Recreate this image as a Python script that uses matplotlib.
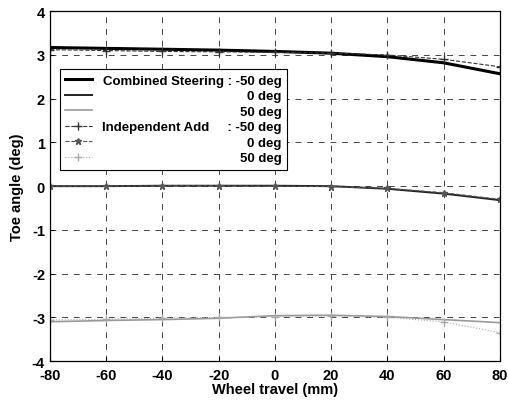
import matplotlib
matplotlib.use('Agg')
import matplotlib.pyplot as plt

plt.rcParams['font.family'] = ['Liberation Sans', 'DejaVu Sans']
plt.rcParams['font.weight'] = 'bold'
plt.rcParams['axes.unicode_minus'] = False

travel = [-80, -60, -40, -20, 0, 20, 40, 60, 80]

comb_m50 = [3.17, 3.15, 3.13, 3.11, 3.08, 3.04, 2.96, 2.82, 2.57]
comb_0 = [0.0, 0.0, 0.01, 0.01, 0.01, 0.0, -0.06, -0.17, -0.32]
comb_50 = [-3.1, -3.07, -3.05, -3.02, -2.96, -2.95, -2.98, -3.05, -3.12]

ind_m50 = [3.12, 3.1, 3.08, 3.07, 3.06, 3.04, 3.0, 2.9, 2.73]
ind_0 = [0.0, 0.0, 0.01, 0.01, 0.0, -0.01, -0.05, -0.15, -0.3]
ind_50 = [-3.06, -3.04, -3.02, -3.0, -2.98, -2.97, -3.0, -3.1, -3.35]

labels = ['Combined Steering : -50 deg', '0 deg', '50 deg',
          'Independent Add     : -50 deg', '0 deg', '50 deg']

fig = plt.figure(figsize=(5.1, 4.06), dpi=100)
ax = fig.add_axes([0.098, 0.108, 0.882, 0.862])

ax.plot(travel, comb_m50, color='black', lw=2.2, label=labels[0])
ax.plot(travel, comb_0, color='#222222', lw=1.4, label=labels[1])
ax.plot(travel, comb_50, color='#999999', lw=1.2, label=labels[2])
ax.plot(travel, ind_m50, color='#333333', lw=0.8, ls='--', marker='+', ms=6, label=labels[3])
ax.plot(travel, ind_0, color='#555555', lw=0.8, ls='--', marker='*', ms=5, label=labels[4])
ax.plot(travel, ind_50, color='#aaaaaa', lw=0.8, ls=':', marker='+', ms=6, label=labels[5])

ax.set_xlim(-80, 80)
ax.set_ylim(-4, 4)
ax.set_xticks(range(-80, 81, 20))
ax.set_yticks(range(-4, 5))
ax.grid(True, ls=(0, (6, 6)), color='#444444', lw=0.7)
ax.tick_params(direction='in', labelsize=10.5, length=3)
ax.tick_params(axis='x', pad=5)
for s in ax.spines.values():
    s.set_linewidth(0.9)
ax.set_xlabel('Wheel travel (mm)', fontsize=10.5, fontweight='bold', labelpad=0)
ax.set_ylabel('Toe angle (deg)', fontsize=10.5, fontweight='bold', labelpad=6)

leg = ax.legend(loc='upper left', bbox_to_anchor=(0.022, 0.834), borderaxespad=0,
                fontsize=9.5, handlelength=2.0, labelspacing=0.25, fancybox=False,
                framealpha=1, edgecolor='black', borderpad=0.4)
leg.get_frame().set_linewidth(0.8)

# right-align legend labels like the original: hide the legend texts and
# redraw them right-aligned at the same rows
fig.canvas.draw()
renderer = fig.canvas.get_renderer()
boxes = [t.get_window_extent(renderer) for t in leg.get_texts()]
right = max(b.x1 for b in boxes)
W, H = fig.bbox.width, fig.bbox.height
for t, b in zip(leg.get_texts(), boxes):
    t.set_color('none')
    fig.text(right / W, b.y0 / H, t.get_text(), ha='right', va='bottom',
             fontsize=9.5, fontweight='bold', zorder=10)

fig.savefig('out.png', dpi=100)
